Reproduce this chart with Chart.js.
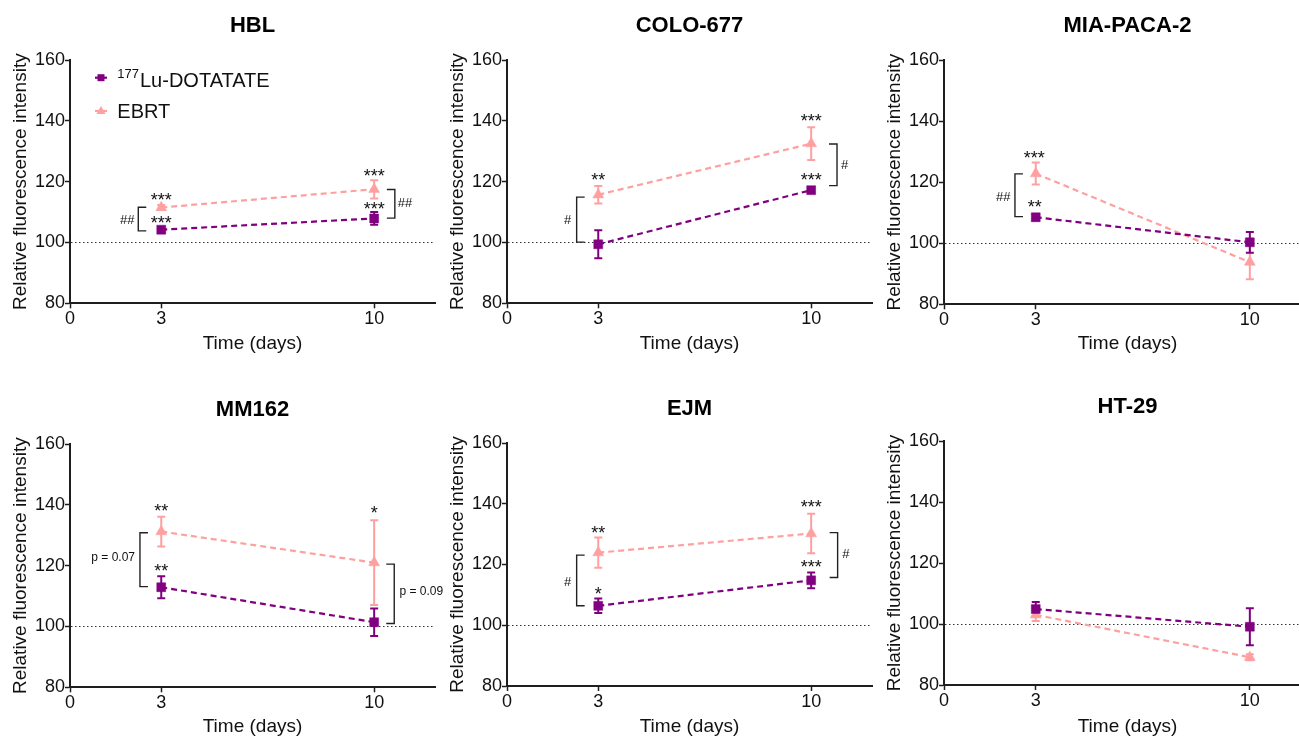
<!DOCTYPE html>
<html><head><meta charset="utf-8">
<script src="https://cdn.jsdelivr.net/npm/chart.js@4.4.1/dist/chart.umd.min.js"></script>
<style>
html,body{margin:0;padding:0;background:#fff;overflow:hidden;width:1299px;height:737px;position:relative;}
canvas{position:absolute;}
</style></head><body>
<canvas id="c0"></canvas><canvas id="c1"></canvas><canvas id="c2"></canvas>
<canvas id="c3"></canvas><canvas id="c4"></canvas><canvas id="c5"></canvas>
<script>
// ---------- data ----------
const days = [3, 10];
const xTickValues = [0, 3, 10];
const xMin = 0, xMax = 12;
const yMin = 80, yMax = 160, yStep = 20;
const baselineValue = 100;
const panelTitles = ['HBL', 'COLO-677', 'MIA-PACA-2', 'MM162', 'EJM', 'HT-29'];
const seriesNames = ['Lu-DOTATATE', 'EBRT'];
const seriesSup = ['177', ''];
const xTitle = 'Time (days)';
const yTitle = 'Relative fluorescence intensity';

const hblLu = [104.2, 107.9], hblLuErr = [0.6, 2.1];
const hblEbrt = [111.5, 117.5], hblEbrtErr = [0.8, 3.0];
const coloLu = [99.4, 117.2], coloLuErr = [4.6, 1.0];
const coloEbrt = [115.7, 132.5], coloEbrtErr = [2.9, 5.4];
const miaLu = [108.5, 100.3], miaLuErr = [1.0, 3.4];
const miaEbrt = [122.8, 93.8], miaEbrtErr = [3.6, 5.6];
const mmLu = [112.9, 101.4], mmLuErr = [3.6, 4.5];
const mmEbrt = [131.2, 121.0], mmEbrtErr = [4.9, 13.9];
const ejmLu = [106.4, 114.8], ejmLuErr = [2.4, 2.6];
const ejmEbrt = [123.9, 130.2], ejmEbrtErr = [5.0, 6.5];
const htLu = [104.9, 99.1], htLuErr = [2.3, 6.1];
const htEbrt = [103.0, 89.1], htEbrtErr = [2.0, 1.0];

// significance labels: [text, day, value]
const hblMarks = [['***', 3, 115.1], ['***', 3, 107.4], ['##', 1.88, 107.4], ['***', 10, 123.1], ['***', 10, 112.1], ['##', 11.01, 113.1]];
const hblBrackets = [[2.245, 111.6, 103.8, 1], [10.68, 117.4, 108.0, -1]];
const coloMarks = [['**', 3, 121.6], ['***', 10, 141.2], ['***', 10, 121.6], ['#', 1.99, 107.4], ['#', 11.1, 125.7]];
const coloBrackets = [[2.29, 114.9, 100.1, 1], [10.85, 132.4, 118.7, -1]];
const miaMarks = [['***', 2.95, 129.2], ['**', 2.97, 113.1], ['##', 1.94, 115.2]];
const miaBrackets = [[2.32, 122.7, 108.7, 1]];
const mmMarks = [['**', 3, 139.2], ['**', 3, 119.5], ['*', 10, 138.5], ['p = 0.07', 1.42, 122.4], ['p = 0.09', 11.55, 111.5]];
const mmBrackets = [[2.30, 130.8, 113.1, 1], [10.66, 120.5, 101.0, -1]];
const ejmMarks = [['**', 3, 131.5], ['*', 3, 111.6], ['***', 10, 140.05], ['***', 10, 120.3], ['#', 1.99, 114.3], ['#', 11.14, 123.6]];
const ejmBrackets = [[2.29, 123.1, 106.4, 1], [10.87, 130.5, 115.7, -1]];
const htMarks = [];
const htBrackets = [];

const panelData = [
  [hblLu, hblLuErr, hblEbrt, hblEbrtErr, hblMarks, hblBrackets],
  [coloLu, coloLuErr, coloEbrt, coloEbrtErr, coloMarks, coloBrackets],
  [miaLu, miaLuErr, miaEbrt, miaEbrtErr, miaMarks, miaBrackets],
  [mmLu, mmLuErr, mmEbrt, mmEbrtErr, mmMarks, mmBrackets],
  [ejmLu, ejmLuErr, ejmEbrt, ejmEbrtErr, ejmMarks, ejmBrackets],
  [htLu, htLuErr, htEbrt, htEbrtErr, htMarks, htBrackets]
];

// ---------- layout / style ----------
const FONT = '"Liberation Sans", Arial, Helvetica, sans-serif';
const PURPLE = '#800080';
const PINK = '#FFA0A0';
const AXIS = '#1e1e1e';
const Y_AXIS_W = 70;
const layouts = [
  {left: 0,   top: 0,   h: 370, plotTop: 60,  plotBottom: 303.3, plotW: 365, xPad: 15.3},
  {left: 437, top: 0,   h: 370, plotTop: 60,  plotBottom: 303.3, plotW: 365, xPad: 15.3},
  {left: 874, top: 0,   h: 370, plotTop: 60,  plotBottom: 304.3, plotW: 367, xPad: 15.3},
  {left: 0,   top: 370, h: 380, plotTop: 74,  plotBottom: 317.3, plotW: 365, xPad: 12.3},
  {left: 437, top: 370, h: 380, plotTop: 73,  plotBottom: 316,   plotW: 365, xPad: 12.3},
  {left: 874, top: 370, h: 380, plotTop: 71,  plotBottom: 315,   plotW: 367, xPad: 12.3}
];

function drawText(ctx, text, cx, cy) {
  let size = 18;
  if (text[0] === '#') size = 13;
  if (text[0] === 'p') size = 12;
  ctx.font = size + 'px ' + FONT;
  ctx.textAlign = 'center';
  ctx.textBaseline = 'alphabetic';
  const m = ctx.measureText(text);
  const base = cy + (m.actualBoundingBoxAscent - m.actualBoundingBoxDescent) / 2;
  ctx.fillText(text, cx, base);
}

const extras = {
  id: 'extras',
  beforeDatasetsDraw(chart, args, opts) {
    const {ctx, chartArea, scales: {x, y}} = chart;
    ctx.save();
    ctx.strokeStyle = '#333';
    ctx.lineWidth = 1;
    ctx.setLineDash([1.5, 2.5]);
    const yy = Math.round(y.getPixelForValue(baselineValue)) + 0.5;
    ctx.beginPath(); ctx.moveTo(chartArea.left + 1, yy); ctx.lineTo(chartArea.right, yy); ctx.stroke();
    ctx.restore();
    for (let i = chart.data.datasets.length - 1; i >= 0; i--) {
      const ds = chart.data.datasets[i];
      const errs = opts.errors[i];
      ctx.save();
      ctx.strokeStyle = ds.borderColor;
      ctx.lineWidth = 2;
      ds.data.forEach((pt, j) => {
        const px = x.getPixelForValue(pt.x);
        const t = y.getPixelForValue(pt.y + errs[j]);
        const b = y.getPixelForValue(pt.y - errs[j]);
        ctx.beginPath();
        ctx.moveTo(px, t); ctx.lineTo(px, b);
        ctx.moveTo(px - 4, t); ctx.lineTo(px + 4, t);
        ctx.moveTo(px - 4, b); ctx.lineTo(px + 4, b);
        ctx.stroke();
      });
      ctx.restore();
    }
  },
  afterDraw(chart, args, opts) {
    const {ctx, chartArea, scales: {x, y}} = chart;
    ctx.save();
    // title
    ctx.fillStyle = '#000';
    ctx.font = 'bold 22px ' + FONT;
    ctx.textAlign = 'center';
    ctx.textBaseline = 'middle';
    ctx.fillText(opts.title, (chartArea.left + chartArea.right) / 2, chartArea.top - 34.5);
    // marks
    ctx.fillStyle = '#111';
    opts.marks.forEach(m => drawText(ctx, m[0], x.getPixelForValue(m[1]), y.getPixelForValue(m[2])));
    // brackets
    ctx.strokeStyle = '#222';
    ctx.lineWidth = 1.4;
    opts.brackets.forEach(b => {
      const bx = x.getPixelForValue(b[0]);
      const t = y.getPixelForValue(b[1]);
      const bt = y.getPixelForValue(b[2]);
      const arm = 8 * b[3];
      ctx.beginPath();
      ctx.moveTo(bx + arm, t); ctx.lineTo(bx, t); ctx.lineTo(bx, bt); ctx.lineTo(bx + arm, bt);
      ctx.stroke();
    });
    // legend
    if (opts.legend) {
      const lx = chartArea.left + 31, tx = chartArea.left + 47.3;
      const rows = [chartArea.top + 17.7, chartArea.top + 51];
      chart.data.datasets.forEach((ds, i) => {
        const ly = rows[i];
        ctx.strokeStyle = ds.borderColor;
        ctx.fillStyle = ds.borderColor;
        ctx.lineWidth = 2.2;
        ctx.setLineDash([]);
        ctx.beginPath(); ctx.moveTo(lx - 6, ly); ctx.lineTo(lx + 6, ly); ctx.stroke();
        ctx.beginPath();
        if (i === 0) {
          ctx.rect(lx - 3.5, ly - 3.5, 7, 7);
        } else {
          ctx.moveTo(lx, ly - 5); ctx.lineTo(lx + 4.5, ly + 3); ctx.lineTo(lx - 4.5, ly + 3); ctx.closePath();
        }
        ctx.fill();
        ctx.fillStyle = '#111';
        ctx.textAlign = 'left';
        ctx.textBaseline = 'alphabetic';
        let cx = tx;
        if (seriesSup[i]) {
          ctx.font = '13px ' + FONT;
          ctx.fillText(seriesSup[i], cx, chartArea.top + 18.3);
          cx += ctx.measureText(seriesSup[i]).width + 1;
        }
        ctx.font = '20px ' + FONT;
        ctx.fillText(seriesNames[i], cx, i === 0 ? chartArea.top + 27 : chartArea.top + 58);
      });
    }
    ctx.restore();
  }
};

panelData.forEach((pd, k) => {
  const L = layouts[k];
  const cv = document.getElementById('c' + k);
  const w = Y_AXIS_W + L.plotW + 15;
  cv.width = w; cv.height = L.h;
  cv.style.left = L.left + 'px'; cv.style.top = L.top + 'px';
  cv.style.width = w + 'px'; cv.style.height = L.h + 'px';
  const [lu, luErr, eb, ebErr, marks, brackets] = pd;
  const mk = (vals) => days.map((d, j) => ({x: d, y: vals[j]}));
  const tickFont = {family: FONT, size: 18};
  new Chart(cv, {
    type: 'line',
    data: {
      datasets: [
        {label: seriesSup[0] + seriesNames[0], data: mk(lu), borderColor: PURPLE, backgroundColor: PURPLE,
         borderDash: [6, 4], borderWidth: 2.2, pointStyle: 'rect', pointRadius: 6.3, pointHoverRadius: 6.3,
         pointBackgroundColor: PURPLE, pointBorderColor: PURPLE, pointBorderWidth: 0.5, tension: 0},
        {label: seriesNames[1], data: mk(eb), borderColor: PINK, backgroundColor: PINK,
         borderDash: [6, 4], borderWidth: 2.2, pointStyle: 'triangle', pointRadius: 6.3, pointHoverRadius: 6.3,
         pointBackgroundColor: PINK, pointBorderColor: PINK, pointBorderWidth: 0.5, tension: 0}
      ]
    },
    options: {
      responsive: false,
      animation: false,
      events: [],
      layout: {padding: {top: L.plotTop, right: 15, left: 0, bottom: 0}},
      plugins: {
        legend: {display: false},
        tooltip: {enabled: false},
        extras: {title: panelTitles[k], errors: [luErr, ebErr], marks: marks, brackets: brackets, legend: k === 0}
      },
      scales: {
        x: {
          type: 'linear', min: xMin, max: xMax,
          afterBuildTicks: s => { s.ticks = xTickValues.map(v => ({value: v})); },
          afterFit: s => { s.height = L.h - L.plotBottom; },
          grid: {display: true, drawOnChartArea: false, drawTicks: true, tickLength: 5, tickColor: AXIS, tickWidth: 1.5},
          border: {display: true, color: AXIS, width: 2},
          ticks: {font: tickFont, color: '#111', padding: 0, maxRotation: 0, autoSkip: false},
          title: {display: true, text: xTitle, font: {family: FONT, size: 19}, color: '#111', padding: {top: 0, bottom: L.xPad}}
        },
        y: {
          min: yMin, max: yMax,
          afterFit: s => { s.width = Y_AXIS_W; },
          grid: {display: true, drawOnChartArea: false, drawTicks: true, tickLength: 5, tickColor: AXIS, tickWidth: 1.5},
          border: {display: true, color: AXIS, width: 2},
          ticks: {stepSize: yStep, font: tickFont, color: '#111', padding: 0},
          title: {display: true, text: yTitle, font: {family: FONT, size: 19}, color: '#111', padding: {top: 9, bottom: 0}}
        }
      }
    },
    plugins: [extras]
  });
});
</script>
</body></html>
